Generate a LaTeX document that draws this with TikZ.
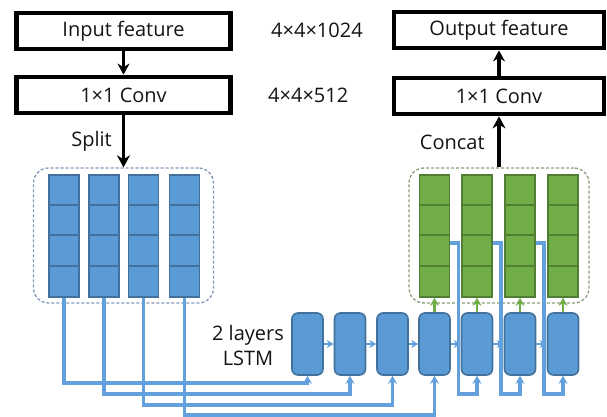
\documentclass[tikz,border=0pt]{standalone}
\usepackage{fontspec}
\setmainfont{Open Sans}
\usetikzlibrary{arrows.meta}

\definecolor{cellblue}{RGB}{91,155,213}
\definecolor{edgeblue}{RGB}{65,113,156}
\definecolor{cellgreen}{RGB}{112,173,71}
\definecolor{edgegreen}{RGB}{80,126,50}
\definecolor{linkblue}{RGB}{98,160,222}
\definecolor{dashblue}{RGB}{128,150,182}
\definecolor{dashgreen}{RGB}{140,156,124}
\definecolor{ink}{RGB}{20,20,20}

\begin{document}
\begin{tikzpicture}[x=1pt, y=-1pt, font=\fontsize{20}{25}\selectfont, text=ink,
		layer/.style={draw=black, line width=4.8pt, minimum width=#1, minimum height=36pt, inner sep=0pt},
		group/.style={draw=#1, dash pattern=on 3pt off 2pt, line width=1.3pt, rounded corners=15pt, minimum width=180pt, minimum height=135pt},
		bluecol/.style={draw=edgeblue, fill=cellblue, line width=1.6pt, minimum width=30pt, minimum height=122pt, inner sep=0pt},
		greencol/.style={draw=edgegreen, fill=cellgreen, line width=1.6pt, minimum width=30pt, minimum height=122pt, inner sep=0pt},
		cell/.style={draw=edgeblue, fill=cellblue, line width=1.6pt, rounded corners=6pt, minimum width=31pt, minimum height=62pt, inner sep=0pt},
		link/.style={draw=linkblue, line width=3.6pt},
		lbl/.style={inner sep=0pt}]
	\useasboundingbox (0,0) rectangle (607,417);

	% top boxes
	\node[layer=214] (In) at (123.5,31) {Input feature};
	\node[layer=214] (Cv1) at (123.5,95) {1×1 Conv};
	\node[layer=210] (Out) at (499,30) {Output feature};
	\node[layer=210] (Cv2) at (499,96) {1×1 Conv};
	\node[lbl, anchor=west] (D1) at (271,30) {4×4×1024};
	\node[lbl, anchor=west] (D2) at (268,95) {4×4×512};

	% dashed groups
	\node[group=dashblue] (Grp1) at (123.5,235.5) {};
	\node[group=dashgreen] (Grp2) at (499,235.5) {};

	% lstm cells
	\foreach \x [count=\i] in {307.5,350,392.5,434.5,477,520,563}
		\node[cell] (L\i) at (\x,344) {};
	\node[lbl, align=center] (Lbl) at (248,345) {2 layers\\LSTM};

	% inputs to lstm
	\foreach \i/\x in {1/64,2/104,3/143.5,4/184.5}
		\node[bluecol] (B\i) at (\x,236) {};
	\foreach \i/\y in {1/383,2/394,3/405,4/415}
		\draw[link, ->, >={Stealth[length=8pt,width=9pt]}] (B\i.south) -- (B\i.south |- 0,\y) -| (L\i.south);

	% outputs and backward links
	\foreach \i/\j in {1/4,2/5,3/6,4/7}
		\node[greencol] (G\i) at (L\j |- 0,236) {};
	\foreach \i/\j in {1/5,2/6,3/7}
		\draw[link, ->, >={Stealth[length=8pt,width=9pt]}] (G\i.east |- 0,243) -- ++(8,0) |- (L\j.south |- 0,394) -- (L\j.south);
	\foreach \i in {1,2,3,4} {
		\foreach \k in {1,2,3} {
			\draw[edgeblue, line width=2pt] ([yshift=-\k*30.5pt]B\i.north west) -- ([yshift=-\k*30.5pt]B\i.north east);
			\draw[edgegreen, line width=2pt] ([yshift=-\k*30.5pt]G\i.north west) -- ([yshift=-\k*30.5pt]G\i.north east);
		}
	}
	\foreach \i/\j in {1/2,2/3,3/4,4/5,5/6,6/7}
		\draw[link, line width=2.4pt, ->, >={Stealth[length=7pt,width=8pt]}] (L\i) -- (L\j);
	\foreach \i/\j in {1/4,2/5,3/6,4/7}
		\draw[cellgreen, line width=2.4pt, ->, >={Stealth[length=8pt,width=9pt]}] (L\j) -- (G\i);

	% main arrows
	\draw[->, >={Stealth[length=11pt,width=12pt]}, line width=3pt] (In) -- (Cv1);
	\draw[->, >={Stealth[length=12pt,width=13pt]}, line width=3.6pt] (Cv1) -- (Grp1) node[lbl, midway, anchor=east, xshift=-10pt] (Sp) {Split};
	\draw[->, >={Stealth[length=11pt,width=12pt]}, line width=3.6pt] (Cv2) -- (Out);
	\draw[->, >={Stealth[length=12pt,width=13pt]}, line width=4.8pt] (Grp2) -- (Cv2) node[lbl, midway, anchor=east, xshift=-12pt] (Cc) {Concat};
\end{tikzpicture}
\end{document}
